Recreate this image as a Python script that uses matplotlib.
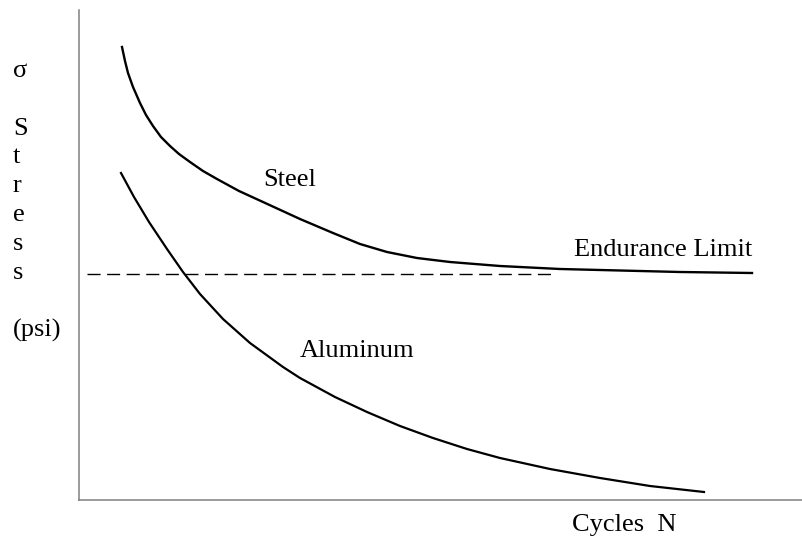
import matplotlib
matplotlib.use("Agg")
import matplotlib.pyplot as plt

# S-N curves, arbitrary units (x: cycles, y: stress)
steel_n = [43, 46, 49, 54, 61, 67, 74, 82, 91, 100, 111, 124, 138, 160, 184, 221,
           254, 281, 308, 338, 371, 421, 481, 541, 601, 673]
steel_s = [453, 439, 427, 413, 397, 385, 374, 363, 354, 346, 338, 329, 321, 309, 298, 281,
           267, 256, 248, 242, 238, 234, 231, 229.5, 228, 227]

alum_n = [42, 55, 70, 88, 104, 121, 144, 171, 204, 221, 256, 288, 321, 354, 388, 421,
          471, 521, 571, 625]
alum_s = [327, 303, 278, 251, 228, 206, 181, 157, 133, 122, 103, 88, 74, 62, 51, 42,
          31, 22, 14, 8]

endurance_s = 226
endurance_n = [8, 474]

ylabel_lines = ["σ", "", "S", "t", "r", "e", "s", "s", "", "(psi)"]

plt.rcParams["font.family"] = ["Liberation Serif", "DejaVu Serif"]

fig = plt.figure(figsize=(8.02, 5.37), dpi=100)
ax = fig.add_axes([79 / 802, 37 / 537, 723 / 802, 490 / 537])
ax.set_xlim(0, 723)
ax.set_ylim(0, 490)

ax.plot(steel_n, steel_s, color="black", lw=1.7, solid_joinstyle="round")
ax.plot(alum_n, alum_s, color="black", lw=1.6, solid_joinstyle="round")
ax.plot(endurance_n, [endurance_s, endurance_s], color="black", lw=1.0,
        linestyle=(0, (9.4, 4.7)))

fs = 19
ax.text(184, 314, "Steel", fontsize=fs, va="baseline")
ax.text(221, 143, "Aluminum", fontsize=fs, va="baseline")
ax.text(495, 244, "Endurance Limit", fontsize=fs, va="baseline")
ax.text(493, -31, "Cycles  N", fontsize=fs, va="baseline", clip_on=False)

# vertical stacked y label
top = 423
step = 28.8
for i, s in enumerate(ylabel_lines):
    ax.text(-66, top - i * step, s, fontsize=fs, va="baseline", clip_on=False)

for side in ["top", "right"]:
    ax.spines[side].set_visible(False)
for side in ["left", "bottom"]:
    ax.spines[side].set_color("#808080")
    ax.spines[side].set_linewidth(1.1)
ax.set_xticks([])
ax.set_yticks([])

fig.savefig("out.png", dpi=100)
